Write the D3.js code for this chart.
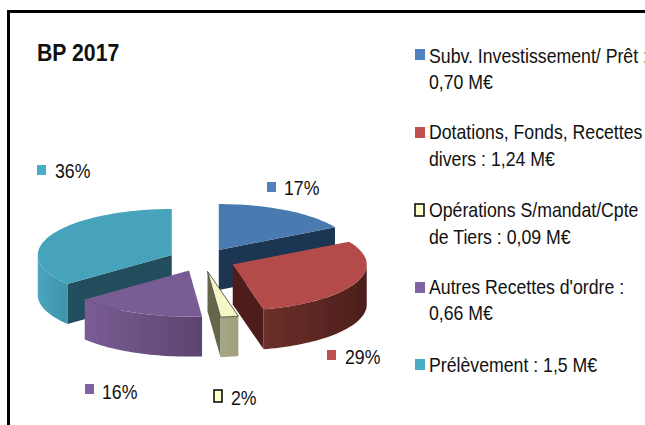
<!DOCTYPE html>
<html>
<head>
<meta charset="utf-8">
<script src="https://cdnjs.cloudflare.com/ajax/libs/d3/7.8.5/d3.min.js"></script>
<style>
  html, body { margin: 0; padding: 0; background: #fff; overflow: hidden; }
  svg { display: block; }
  text { font-family: "Liberation Sans", Arial, sans-serif; fill: #111; }
</style>
</head>
<body>
<div id="chart"></div>
<script>
// Chart data
let categories = ["Subv. Investissement", "Dotations", "Opérations", "Autres Recettes", "Prélèvement"];
let amounts = [0.70, 1.24, 0.09, 0.66, 1.5];
let percents = [17, 29, 2, 16, 36];
let legendLines = [
  ["Subv. Investissement/ Prêt :", "0,70 M€"],
  ["Dotations, Fonds, Recettes", "divers : 1,24 M€"],
  ["Opérations S/mandat/Cpte", "de Tiers : 0,09 M€"],
  ["Autres Recettes d'ordre :", "0,66 M€"],
  ["Prélèvement : 1,5 M€"]
];

// Colours per slice
let topColors = ["#4a7ab0", "#b24c48", "#f6f6c8", "#7a5c94", "#47a2bb"];
let swatchColors = ["#4f81bd", "#c0504d", "#ffffcc", "#8064a2", "#4bacc6"];
let faceColors = ["#1f3652", "#4f1f1c", "#66664b", "#39294f", "#204d5c"];
let rimStart = ["#35577f", "#6d302b", "#a6a686", "#7a5c94", "#4aa5be"];
let rimEnd = ["#35577f", "#4c1e1b", "#a0a07e", "#5c446f", "#3f93aa"];

// Layout
let svgWidth = 645;
let svgHeight = 425;
let pieCenter = { x: 202, y: 260 };
let radiusX = 134;
let radiusY = 46;
let depth = 40;
let explode = 0.25;
let drawOrder = [4, 0, 1, 3, 2];
let squeeze = 0.885; // the text in the picture is narrower than the font

let labelPos = [
  { x: 267, y: 182, tx: 284, ty: 195 },
  { x: 327, y: 350, tx: 345, ty: 364 },
  { x: 214, y: 390, tx: 231, ty: 405 },
  { x: 85, y: 384, tx: 102, ty: 399 },
  { x: 37, y: 165, tx: 55, ty: 178 }
];
let legendPos = [
  { y: 49, lines: [63, 89] },
  { y: 127, lines: [139, 166] },
  { y: 204, lines: [217, 244] },
  { y: 282, lines: [294, 320] },
  { y: 359, lines: [372] }
];

let svg = d3.select("#chart")
  .append("svg")
  .attr("width", svgWidth)
  .attr("height", svgHeight);

let defs = svg.append("defs");
defs.append("filter").attr("id", "soft")
  .append("feGaussianBlur").attr("stdDeviation", 0.4);

function addText(x, y, size, str) {
  return svg.append("text")
    .attr("transform", `translate(${x},${y}) scale(${squeeze},1)`)
    .attr("font-size", size)
    .text(str);
}

// Frame
svg.append("path")
  .attr("d", `M8.5,${svgHeight} V11.5 H${svgWidth}`)
  .attr("fill", "none")
  .attr("stroke", "#000")
  .attr("stroke-width", 3);

// Title
addText(37, 61, 24, "BP 2017").attr("font-weight", "bold");

// Unit circle -> flattened ellipse
let xScale = d3.scaleLinear().domain([-1, 1]).range([pieCenter.x - radiusX, pieCenter.x + radiusX]);
let yScale = d3.scaleLinear().domain([-1, 1]).range([pieCenter.y - radiusY, pieCenter.y + radiusY]);

let slices = d3.pie().sort(null).value(d => d)(amounts);

// Point of a slice on the unit circle, pushed out along its middle angle
function point(slice, angle, r) {
  let mid = (slice.startAngle + slice.endAngle) / 2;
  return [
    xScale(explode * Math.sin(mid) + r * Math.sin(angle)),
    yScale(-explode * Math.cos(mid) - r * Math.cos(angle))
  ];
}

function arcPoints(slice, a0, a1) {
  let n = Math.max(2, Math.ceil((a1 - a0) / 0.03));
  return d3.range(n + 1).map(i => point(slice, a0 + (a1 - a0) * i / n, 1));
}

let line = d3.line();
let pieGroup = svg.append("g").attr("filter", "url(#soft)");

drawOrder.forEach(i => {
  let s = slices[i];
  let g = pieGroup.append("g").attr("class", "slice");

  // Cut faces that look towards the viewer
  [s.startAngle, s.endAngle].forEach((a, k) => {
    let visible = k === 0 ? Math.sin(a) < -0.01 : Math.sin(a) > 0.01;
    if (!visible) return;
    let apex = point(s, 0, 0);
    let rim = point(s, a, 1);
    g.append("path")
      .attr("d", line([apex, rim, [rim[0], rim[1] + depth], [apex[0], apex[1] + depth]]) + "Z")
      .attr("fill", faceColors[i]);
  });

  // Outer wall, only the front half of the ellipse
  let a0 = Math.max(s.startAngle, Math.PI / 2);
  let a1 = Math.min(s.endAngle, Math.PI * 1.5);
  if (a1 > a0) {
    let grad = defs.append("linearGradient").attr("id", "rim" + i);
    grad.append("stop").attr("offset", "0%").attr("stop-color", rimStart[i]);
    grad.append("stop").attr("offset", "100%").attr("stop-color", rimEnd[i]);
    let upper = arcPoints(s, a0, a1);
    let lower = upper.map(p => [p[0], p[1] + depth]).reverse();
    g.append("path")
      .attr("d", line(upper.concat(lower)) + "Z")
      .attr("fill", `url(#rim${i})`);
  }

  // Top
  g.append("path")
    .attr("d", line([point(s, 0, 0)].concat(arcPoints(s, s.startAngle, s.endAngle))) + "Z")
    .attr("fill", topColors[i])
    .attr("stroke", i === 2 ? "#3a3a2a" : "none")
    .attr("stroke-width", i === 2 ? 0.8 : 0);
});

// Percent labels
percents.forEach((p, i) => {
  svg.append("rect")
    .attr("x", labelPos[i].x)
    .attr("y", labelPos[i].y)
    .attr("width", i === 2 ? 8 : 9)
    .attr("height", i === 2 ? 12 : 10)
    .attr("fill", swatchColors[i])
    .attr("stroke", i === 2 ? "#000" : "none")
    .attr("stroke-width", i === 2 ? 1.5 : 0);
  addText(labelPos[i].tx, labelPos[i].ty, 20, p + "%");
});

// Legend
legendLines.forEach((lines, i) => {
  svg.append("rect")
    .attr("x", 415)
    .attr("y", legendPos[i].y)
    .attr("width", i === 2 ? 9 : 10)
    .attr("height", i === 2 ? 12 : 11)
    .attr("fill", swatchColors[i])
    .attr("stroke", i === 2 ? "#000" : "none")
    .attr("stroke-width", i === 2 ? 1.5 : 0);
  lines.forEach((t, k) => {
    addText(429, legendPos[i].lines[k], 20, t);
  });
});
</script>
</body>
</html>
